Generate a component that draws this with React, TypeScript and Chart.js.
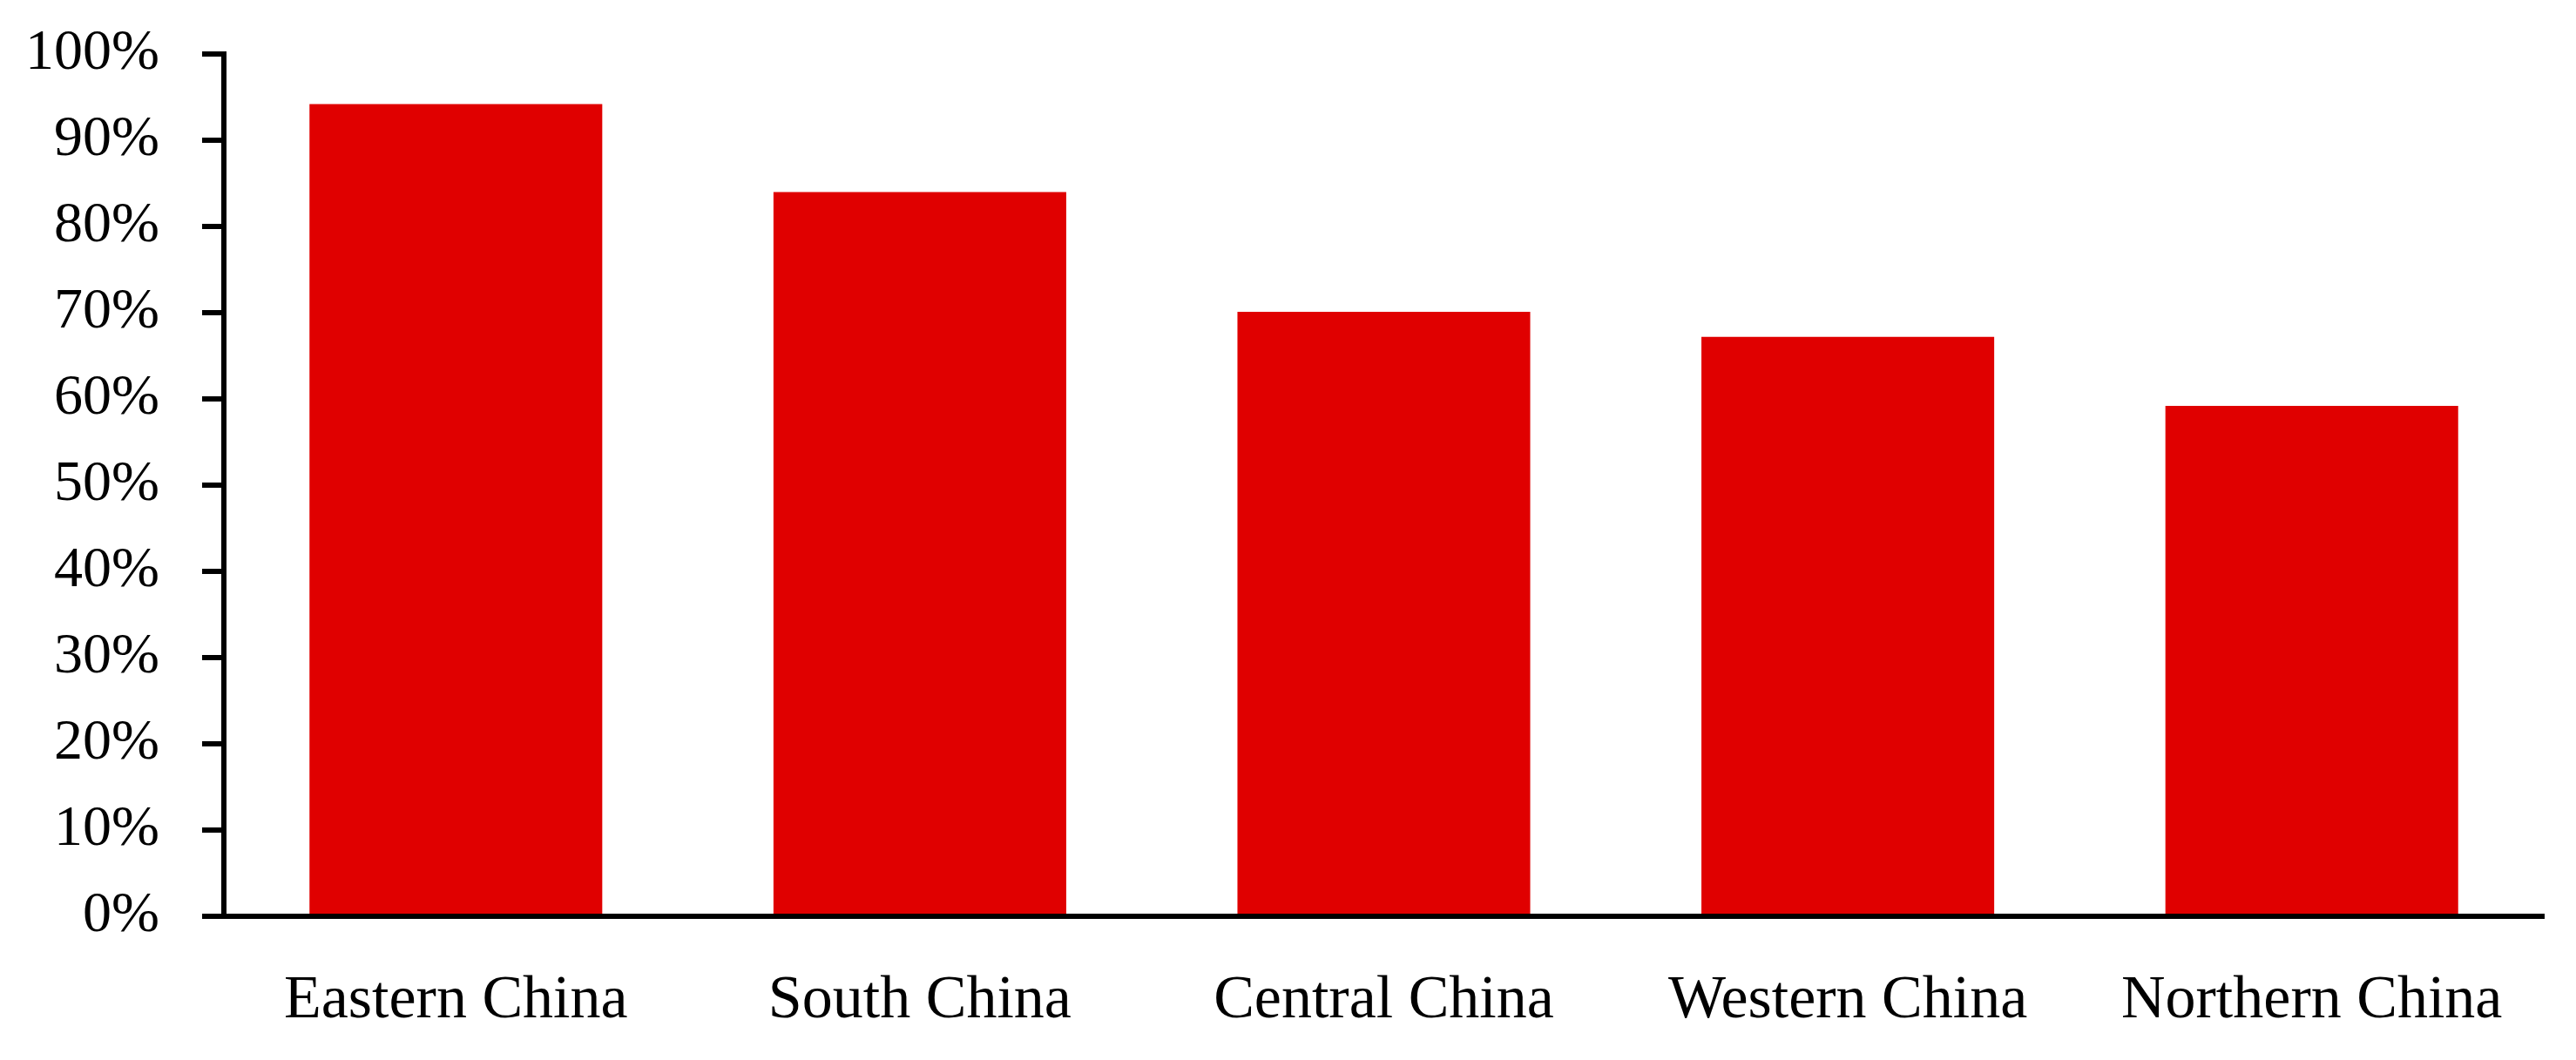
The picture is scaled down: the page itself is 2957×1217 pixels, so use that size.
import React, { useEffect, useRef } from "react";
import { Chart, registerables } from "chart.js";

Chart.register(...registerables);

const categories = ["Eastern China", "South China", "Central China", "Western China", "Northern China"];
const values = [94.2, 84.0, 70.1, 67.2, 59.2];
const yTicks = [0, 10, 20, 30, 40, 50, 60, 70, 80, 90, 100];

export default function App() {
  const ref = useRef<HTMLCanvasElement | null>(null);

  useEffect(() => {
    if (!ref.current) return;
    const yFont = { family: "'Liberation Serif', serif", size: 66 };
    const xFont = { family: "'Liberation Serif', serif", size: 70 };
    const chart = new Chart(ref.current, {
      type: "bar",
      data: {
        labels: categories,
        datasets: [
          {
            data: values,
            backgroundColor: "#E00000",
            borderWidth: 0,
            categoryPercentage: 1,
            barPercentage: 0.631,
          },
        ],
      },
      options: {
        responsive: false,
        animation: false,
        layout: { padding: { top: 62, right: 37, left: 0, bottom: 0 } },
        plugins: { legend: { display: false }, tooltip: { enabled: false } },
        scales: {
          x: {
            grid: { display: false },
            border: { display: true, color: "#000", width: 6 },
            ticks: { color: "#000", font: xFont, padding: 48, maxRotation: 0 },
            afterFit: (s: any) => {
              s.height = 165;
              s.paddingLeft = 0;
              s.paddingRight = 0;
            },
          },
          y: {
            min: 0,
            max: 100,
            afterBuildTicks: (s: any) => {
              s.ticks = yTicks.map((v) => ({ value: v }));
            },
            grid: {
              drawOnChartArea: false,
              drawTicks: true,
              tickLength: 25,
              tickColor: "#000",
              lineWidth: 6,
              color: "#000",
            },
            border: { display: true, color: "#000", width: 6 },
            ticks: {
              color: "#000",
              font: yFont,
              padding: 49,
              callback: (v: any) => v + "%",
            },
            afterFit: (s: any) => {
              s.width = 257;
              s.paddingTop = 0;
              s.paddingBottom = 0;
            },
          },
        },
      },
    });
    return () => chart.destroy();
  }, []);

  return (
    <div style={{ position: "fixed", left: 0, top: 0, width: 2957, height: 1217, background: "#fff" }}>
      <canvas ref={ref} width={2957} height={1217} style={{ display: "block" }} />
    </div>
  );
}
